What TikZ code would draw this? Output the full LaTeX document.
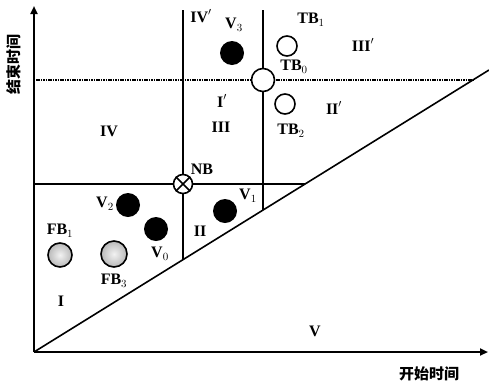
\documentclass[tikz,border=0pt]{standalone}
\usepackage{fontspec}
\setmainfont{Liberation Serif}
\newfontfamily\cjk{Noto Sans CJK SC}
\usetikzlibrary{arrows.meta,calc}
\begin{document}
\begin{tikzpicture}[x=1pt,y=-1pt,
  axis/.style={line width=2.4pt,-{Triangle[length=8pt,width=7pt]}},
  solidln/.style={line width=1.6pt},
  dotln/.style={line width=1.8pt,dash pattern=on 1.5pt off 0.9pt},
  blackball/.style={circle,fill=black,minimum size=24pt,inner sep=0pt},
  openball/.style={circle,draw,line width=1.6pt,fill=white,minimum size=20pt,inner sep=0pt},
  greyball/.style={circle,draw,line width=1.6pt,inner color=gray!10,outer color=gray!55,minimum size=24pt,inner sep=0pt},
  lbl/.style={font=\fontsize{16}{16}\selectfont\bfseries,inner sep=0pt},
  rom/.style={font=\fontsize{16}{16}\selectfont\bfseries,inner sep=0pt}]
\useasboundingbox (0,0) rectangle (489,386);
% key coordinates
\coordinate (O) at (34,352);
\coordinate (ytop) at (34,6);
\coordinate (xend) at (488,352);
\coordinate (dend) at (489,70);
\coordinate (hA) at (34,184);
\coordinate (hB) at (305,184);
\coordinate (dA) at (36,80);
\coordinate (dB) at (473,80);
\coordinate (vAt) at (183,10);
\coordinate (vAb) at (183,260);
\coordinate (vBt) at (263,10);
\coordinate (vBb) at (263,210);
% lines
\draw[solidln] (O) -- (dend);
\draw[solidln] (hA) -- (hB);
\draw[dotln] (dA) -- (dB);
\draw[solidln] (vAt) -- (vAb);
\draw[solidln] (vBt) -- (vBb);
\draw[axis] (O) -- (ytop);
\draw[axis] (O) -- (xend);
% balls
\node[openball,minimum size=19pt] (nb) at (183,184) {};
\draw[line width=1.5pt] (nb.north east) -- (nb.south west) (nb.north west) -- (nb.south east);
\node[openball,minimum size=23pt] (tb0) at (263,80) {};
\node[openball] (tb1) at (287,46) {};
\node[openball] (tb2) at (285,104) {};
\node[blackball] (v3) at (232,53) {};
\node[blackball] (v2) at (128,205) {};
\node[blackball] (v0) at (156,229) {};
\node[blackball] (v1) at (225,211) {};
\node[greyball] (fb1) at (60,255) {};
\node[greyball,minimum size=26pt] (fb3) at (114,254) {};
% labels
\node[lbl] (lIVp) at (201,16) {IV$'$};
\node[lbl] (lV3) at (234,25) {V$_3$};
\node[lbl] (lTB1) at (311,20) {TB$_1$};
\node[rom] (lIIIp) at (363,45) {III$'$};
\node[lbl] (lTB0) at (294,67) {TB$_0$};
\node[rom] (lIp) at (222,101) {I$'$};
\node[rom] (lIII) at (221,127) {III};
\node[rom] (lIIp) at (334,108) {II$'$};
\node[lbl] (lTB2) at (291,131) {TB$_2$};
\node[rom] (lIV) at (109,131) {IV};
\node[lbl] (lNB) at (202,169) {NB};
\node[lbl] (lV1) at (248,196) {V$_1$};
\node[lbl] (lV2) at (105,204) {V$_2$};
\node[lbl] (lV0) at (160,254) {V$_0$};
\node[rom] (lII) at (200,231) {II};
\node[lbl] (lFB1) at (60,231) {FB$_1$};
\node[lbl] (lFB3) at (114,281) {FB$_3$};
\node[rom] (lI) at (61,301) {I};
\node[lbl] (lV) at (315,331) {V};
\node[font=\cjk\fontsize{15}{15}\selectfont\bfseries,rotate=90,inner sep=0pt] (ylab) at (14,64) {结束时间};
\node[font=\cjk\fontsize{15}{15}\selectfont\bfseries,inner sep=0pt] (xlab) at (429,374) {开始时间};
\end{tikzpicture}
\end{document}
